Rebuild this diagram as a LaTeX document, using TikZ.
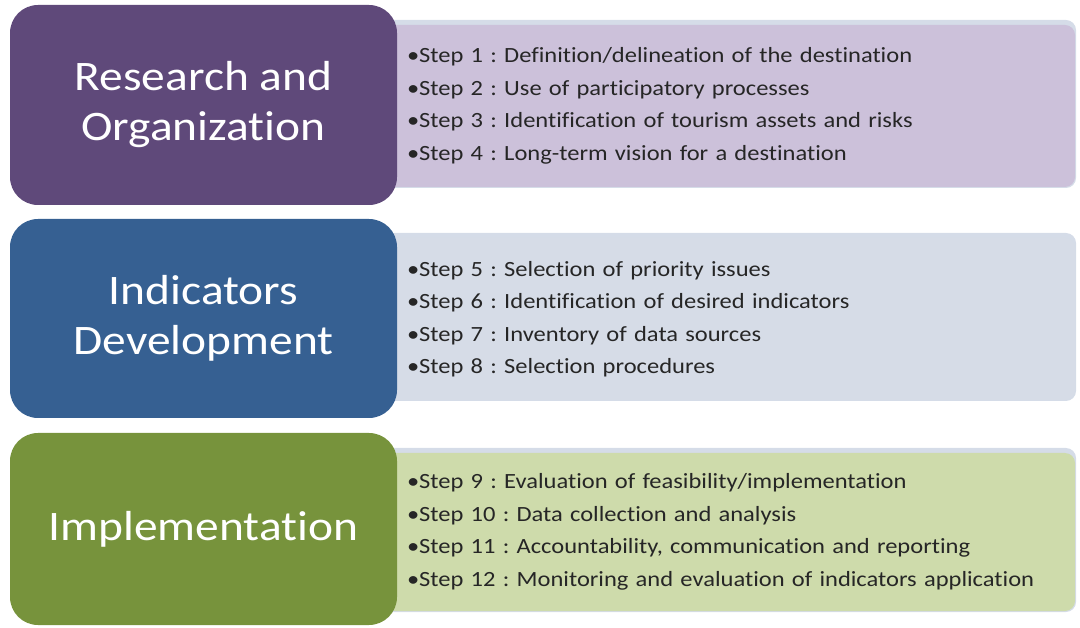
\documentclass[tikz,border=0pt]{standalone}
\usepackage{fontspec}
\setmainfont[FakeStretch=1.13,Ligatures=NoCommon]{Carlito}
\definecolor{purpdark}{HTML}{5F497A}
\definecolor{purplite}{HTML}{CCC1DA}
\definecolor{bluedark}{HTML}{366092}
\definecolor{bluelite}{HTML}{D6DCE7}
\definecolor{grndark}{HTML}{77933C}
\definecolor{grnlite}{HTML}{CEDBAB}
\definecolor{edgelite}{HTML}{D5DCE8}
\definecolor{txtdark}{HTML}{262626}
\tikzset{
  phase/.style={rounded corners=28pt, minimum width=387pt, inner sep=0pt,
    text=white, align=center, font=\fontsize{42}{50}\selectfont},
  stepsbox/.style={rounded corners=10pt, minimum width=690pt, inner xsep=22pt,
    text width=646pt, align=left, text=txtdark, font=\frenchspacing\fontsize{21.7}{32.5}\selectfont},
  edgebox/.style={fill=edgelite, rounded corners=10pt}
}
\begin{document}
\frenchspacing
\begin{tikzpicture}[x=1pt,y=-1pt]
\useasboundingbox (0,0) rectangle (1080,628);
% right boxes
\node[edgebox, minimum width=692pt, minimum height=168pt] (e1) at (730,104) {};
\node[stepsbox, fill=purplite, minimum height=162pt] (s1) at (730,106) {\textbullet Step 1 : Definition/delineation of the destination\\\textbullet Step 2 : Use of participatory processes\\\textbullet Step 3 : Identification of tourism assets and risks\\\textbullet Step 4 : Long-term vision for a destination};
\node[edgebox, minimum width=692pt, minimum height=168pt] (e2) at (730,317) {};
\node[stepsbox, fill=bluelite, minimum height=162pt] (s2) at (730,319) {\textbullet Step 5 : Selection of priority issues\\\textbullet Step 6 : Identification of desired indicators\\\textbullet Step 7 : Inventory of data sources\\\textbullet Step 8 : Selection procedures};
\node[edgebox, minimum width=692pt, minimum height=164pt] (e3) at (730,530) {};
\node[stepsbox, fill=grnlite, minimum height=158pt] (s3) at (730,532) {\textbullet Step 9 : Evaluation of feasibility/implementation\\\textbullet Step 10 : Data collection and analysis\\\textbullet Step 11 : Accountability, communication and reporting\\\textbullet Step 12 : Monitoring and evaluation of indicators application};
% left boxes
\node[phase, fill=purpdark, minimum height=200pt] (p1) at (203.5,105) {Research and\\Organization};
\node[phase, fill=bluedark, minimum height=199pt] (p2) at (203.5,318.5) {Indicators\\Development};
\node[phase, fill=grndark, minimum height=192pt] (p3) at (203.5,529) {Implementation};
\end{tikzpicture}
\end{document}
